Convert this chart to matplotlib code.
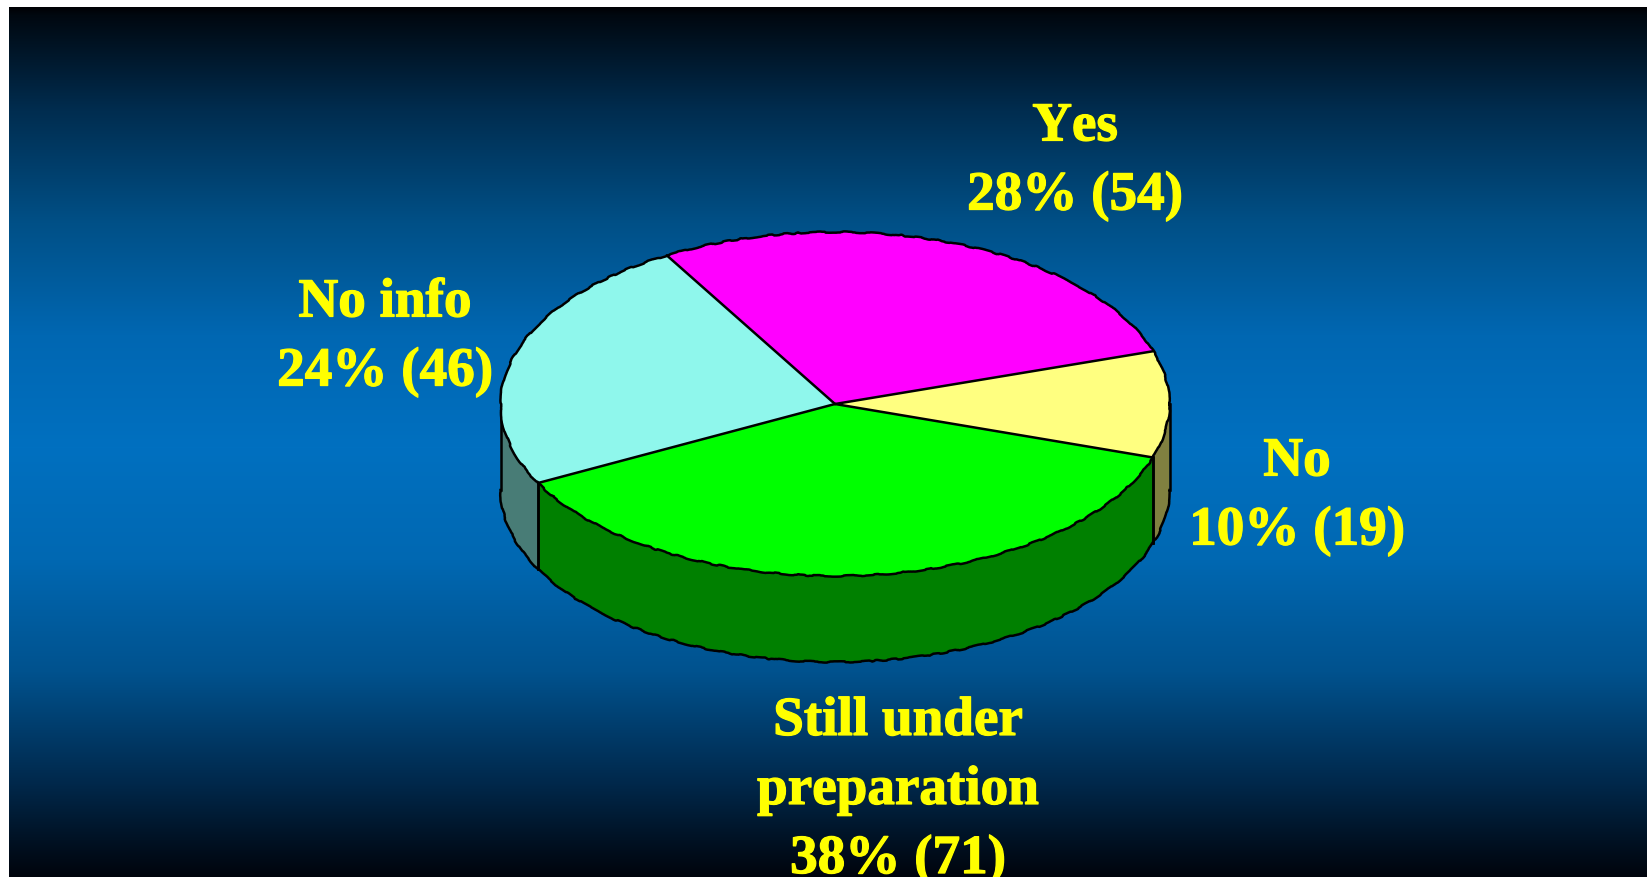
import numpy as np
import matplotlib
matplotlib.use('Agg')
import matplotlib.pyplot as plt
import matplotlib.patheffects as pe

plt.rcParams['text.kerning_factor'] = 6

W, H = 1647, 878

labels = ['Yes\n28% (54)', 'No\n10% (19)', 'Still under\npreparation\n38% (71)', 'No info\n24% (46)']
values = [54, 19, 71, 46]
top_colors = ['#FF00FF', '#FFFF80', '#00FF00', '#8FF7EC']
side_colors = ['#800080', '#808040', '#008000', '#487C76']

# label centres in pixels of the picture
label_x = [1075, 1297, 898, 385]
label_y = [163, 498, 792, 339]

# background gradient, y pixel -> colour
grad_y = [8, 16, 112, 224, 336, 448, 560, 672, 784, 840, 878]
grad_g = [0, 8, 45, 80, 103, 112, 104, 82, 40, 18, 4]
grad_b = [4, 16, 80, 135, 178, 192, 178, 142, 75, 36, 12]

# pie geometry in pixels
cx, cy, rx, ry, depth = 835, 405, 334.5, 172, 86
start_angle = 120.2
line_w = 1.8
wobble = (0.7, 70, 16)

fig = plt.figure(figsize=(W / 100, H / 100), dpi=100, facecolor='white')

# background
bg = fig.add_axes([9 / W, 0, 1 - 9 / W, 1 - 8 / H])
rows = np.arange(8, H)
grad = np.stack([np.zeros(len(rows)),
                 np.interp(rows, grad_y, grad_g),
                 np.interp(rows, grad_y, grad_b)], axis=1)[:, None, :] / 255
bg.imshow(grad, aspect='auto')
bg.axis('off')

# pie, squashed by giving the axes a flat box
ax = fig.add_axes([(cx - rx) / W, (H - cy - ry - depth) / H, 2 * rx / W, (2 * ry + depth) / H])
d = depth / ry
ax.pie(values, colors=top_colors, startangle=start_angle, counterclock=False, radius=1,
       wedgeprops={'edgecolor': 'none', 'zorder': 3})
ax.set_aspect('auto')
ax.set_xlim(-1, 1)
ax.set_ylim(-1 - d, 1)

edges = start_angle - 360 * np.cumsum([0] + values) / sum(values)

# side wall, only the part of each slice facing the viewer
for i in range(len(values)):
    a0, a1 = edges[i + 1], edges[i]
    for shift in (0, -360, 360):
        lo = max(a0 + shift, -180)
        hi = min(a1 + shift, 0)
        if hi <= lo:
            continue
        t = np.radians(np.linspace(lo, hi, 80))
        x = np.cos(t)
        y = np.sin(t)
        ax.fill(np.r_[x, x[::-1]], np.r_[y, y[::-1] - d], facecolor=side_colors[i],
                edgecolor='none', zorder=1, clip_on=False)
        # wall seams are straight
        for px in (x[0], x[-1]):
            ya = np.sin(np.arccos(px)) * -1
            ax.plot([px, px], [ya, ya - d], color='black', lw=line_w, zorder=2, clip_on=False)

# straight spokes on top, they are clean in the reference
for a in edges[:-1]:
    t = np.radians(a)
    ax.plot([0, np.cos(t)], [0, np.sin(t)], color='black', lw=line_w, zorder=4, solid_capstyle='round')

# outer arcs are a bit wobbly
t = np.radians(np.linspace(0, 360, 400))
rim, = ax.plot(np.cos(t), np.sin(t), color='black', lw=line_w, zorder=5, clip_on=False)
rim.set_sketch_params(*wobble)
t = np.radians(np.linspace(-180, 0, 200))
low, = ax.plot(np.cos(t), np.sin(t) - d, color='black', lw=line_w, zorder=2, clip_on=False)
low.set_sketch_params(*wobble)

for lab, lx, ly in zip(labels, label_x, label_y):
    fig.text(lx / W, 1 - ly / H, lab, color='#FFFF00', ha='center', va='center', multialignment='center',
             family='Liberation Serif', fontweight='bold', fontsize=39.7, linespacing=1.5,
             path_effects=[pe.withStroke(linewidth=0.9, foreground='#FFFF00')])

fig.savefig('out.png', dpi=100, facecolor='white')
